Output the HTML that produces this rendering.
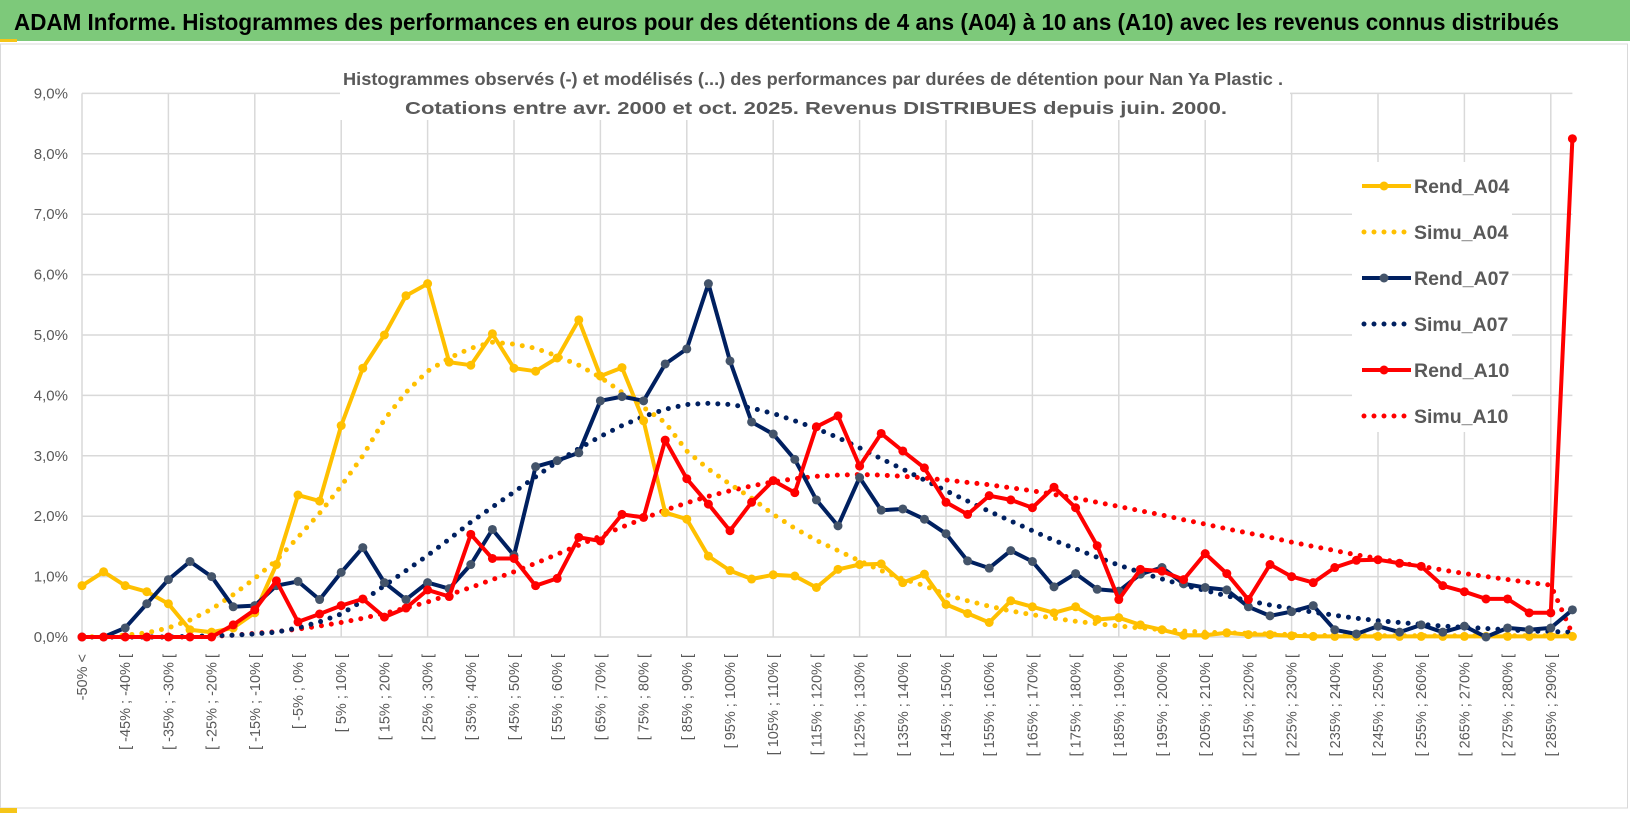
<!DOCTYPE html>
<html><head><meta charset="utf-8">
<style>
html,body{margin:0;padding:0;background:#fff;}
svg{display:block;font-family:"Liberation Sans",sans-serif;}
</style></head>
<body>
<svg id="chart" width="1630" height="815" viewBox="0 0 1630 815">
  <rect x="0" y="0" width="1630" height="815" fill="#fff"/>
  <rect x="0" y="0" width="1630" height="41" fill="#7dc97a"/>
  <rect x="0" y="39" width="17" height="3" fill="#f5c518"/>
  <text x="14" y="30" font-size="23" font-weight="bold" fill="#000" textLength="1545" lengthAdjust="spacingAndGlyphs">ADAM Informe. Histogrammes des performances en euros pour des détentions de 4 ans (A04) à 10 ans (A10) avec les revenus connus distribués</text>
  <rect x="0.5" y="44" width="1627" height="764" fill="none" stroke="#d9d9d9" stroke-width="1"/>
  <rect x="0" y="808" width="17" height="5" fill="#f5c518"/>
  <g id="grid"></g>
  <g id="ylabels"></g>
  <g id="xlabels"></g>
  <rect x="340" y="58" width="950" height="62" fill="#fff"/>
  <text x="813" y="85" font-size="17.5" font-weight="bold" fill="#595959" text-anchor="middle" textLength="940" lengthAdjust="spacingAndGlyphs">Histogrammes observés (-) et modélisés (...) des performances par durées de détention pour Nan Ya Plastic .</text>
  <text x="816" y="114" font-size="17.5" font-weight="bold" fill="#595959" text-anchor="middle" textLength="822" lengthAdjust="spacingAndGlyphs">Cotations entre avr. 2000 et oct. 2025. Revenus DISTRIBUES depuis juin. 2000.</text>
  <g id="series"></g>
  <g id="legend"></g>
</svg>
<script>
const categories = ["-50% <"];
for (let k = 1; k < 70; k++) { const a = -50 + 5*(k-1); categories.push("[ " + a + "% ; " + (a+5) + "% ["); }
const yTicks = [0,1,2,3,4,5,6,7,8,9];
const yTickLabels = ["0,0%","1,0%","2,0%","3,0%","4,0%","5,0%","6,0%","7,0%","8,0%","9,0%"];
const seriesNames = ["Rend_A04","Simu_A04","Rend_A07","Simu_A07","Rend_A10","Simu_A10"];
const rendA04 = [0.85,1.08,0.85,0.75,0.55,0.12,0.08,0.15,0.4,1.2,2.35,2.25,3.5,4.45,5.0,5.65,5.85,4.55,4.5,5.02,4.45,4.4,4.62,5.25,4.32,4.46,3.58,2.06,1.95,1.34,1.1,0.96,1.03,1.01,0.82,1.12,1.2,1.21,0.9,1.04,0.54,0.39,0.24,0.6,0.5,0.4,0.5,0.29,0.32,0.2,0.12,0.03,0.03,0.07,0.04,0.04,0.02,0.01,0.01,0.01,0.01,0.01,0.01,0.01,0.01,0.01,0.01,0.01,0.01,0.01];
const simuA04 = [0,0.01,0.03,0.07,0.15,0.28,0.46,0.7,0.97,1.27,1.65,2.05,2.5,3.0,3.6,4.05,4.4,4.62,4.78,4.88,4.85,4.78,4.65,4.5,4.3,4.05,3.8,3.55,3.08,2.78,2.53,2.3,2.03,1.8,1.6,1.43,1.26,1.1,0.96,0.85,0.7,0.6,0.51,0.43,0.37,0.31,0.26,0.22,0.18,0.15,0.12,0.1,0.08,0.07,0.06,0.05,0.04,0.03,0.02,0.02,0.02,0.02,0.02,0.02,0.02,0.02,0.02,0.02,0.02,0.02];
const rendA07 = [0,0,0.15,0.55,0.95,1.25,1.0,0.5,0.52,0.85,0.92,0.62,1.07,1.48,0.9,0.62,0.9,0.8,1.2,1.78,1.35,2.82,2.92,3.05,3.91,3.98,3.91,4.52,4.77,5.85,4.57,3.56,3.36,2.94,2.27,1.84,2.64,2.1,2.12,1.95,1.71,1.26,1.14,1.43,1.25,0.83,1.05,0.79,0.76,1.04,1.15,0.88,0.82,0.78,0.5,0.35,0.42,0.52,0.12,0.05,0.18,0.08,0.2,0.08,0.18,0.0,0.15,0.12,0.15,0.45];
const simuA07 = [0,0,0,0,0,0.01,0.02,0.03,0.05,0.08,0.15,0.25,0.38,0.6,0.85,1.1,1.35,1.62,1.9,2.15,2.4,2.65,2.9,3.12,3.32,3.5,3.65,3.77,3.85,3.87,3.85,3.79,3.7,3.58,3.45,3.3,3.13,2.95,2.78,2.6,2.42,2.25,2.08,1.92,1.76,1.6,1.46,1.32,1.19,1.07,0.96,0.86,0.77,0.68,0.6,0.53,0.47,0.41,0.36,0.31,0.27,0.24,0.21,0.18,0.16,0.14,0.12,0.1,0.09,0.08];
const rendA10 = [0,0,0,0,0,0,0,0.2,0.45,0.93,0.25,0.38,0.52,0.63,0.33,0.48,0.78,0.67,1.7,1.3,1.3,0.85,0.97,1.65,1.59,2.03,1.98,3.26,2.62,2.2,1.76,2.23,2.59,2.39,3.48,3.66,2.83,3.37,3.08,2.8,2.23,2.03,2.34,2.27,2.14,2.48,2.14,1.51,0.62,1.12,1.09,0.95,1.38,1.05,0.62,1.2,1.0,0.9,1.15,1.27,1.28,1.22,1.17,0.85,0.75,0.63,0.63,0.4,0.4,8.25];
const simuA10 = [0,0,0,0,0,0,0.01,0.03,0.06,0.09,0.13,0.18,0.24,0.31,0.39,0.48,0.58,0.7,0.82,0.95,1.08,1.22,1.37,1.52,1.67,1.82,1.96,2.1,2.22,2.33,2.42,2.5,2.57,2.62,2.66,2.68,2.69,2.68,2.66,2.63,2.6,2.56,2.52,2.47,2.42,2.36,2.3,2.23,2.16,2.09,2.02,1.94,1.87,1.79,1.72,1.65,1.57,1.5,1.43,1.36,1.3,1.23,1.17,1.11,1.05,1.0,0.95,0.9,0.86,0.05];

const NS = "http://www.w3.org/2000/svg";
const X0 = 82, DX = 21.6, Y0 = 637, DY = 60.4;
const xs = i => X0 + DX*i;
const ys = v => Y0 - DY*v;
function mk(tag, attrs, parent){ const e = document.createElementNS(NS, tag); for (const k in attrs) e.setAttribute(k, attrs[k]); parent.appendChild(e); return e; }

const grid = document.getElementById("grid");
const xRight = xs(categories.length - 1);
yTicks.forEach(t => {
  const l = mk("line", {x1: X0, x2: xRight, y1: ys(t), y2: ys(t), stroke: "#d9d9d9", "stroke-width": 1.5}, grid);
  
  
});
for (let i = 0; i < categories.length; i += 4) {
  const l = mk("line", {x1: xs(i), x2: xs(i), y1: ys(9), y2: ys(0), stroke: "#d9d9d9", "stroke-width": 1.5}, grid);
  
  
}
const yl = document.getElementById("ylabels");
yTicks.forEach((t, k) => {
  const tx = mk("text", {x: 68, y: ys(t) + 5, "font-size": 15, fill: "#595959", "text-anchor": "end"}, yl);
  tx.textContent = yTickLabels[k];
  
  
});
const xl = document.getElementById("xlabels");
for (let i = 0; i < categories.length; i += 2) {
  const x = xs(i) + 5, y = 654;
  const tx = mk("text", {x: x, y: y, "font-size": 14.5, fill: "#595959", "text-anchor": "end", transform: "rotate(-90 " + x + " " + y + ")"}, xl);
  tx.textContent = categories[i];
  
  
}

const sg = document.getElementById("series");
function pts(arr){ return arr.map((v,i) => xs(i).toFixed(1) + "," + ys(v).toFixed(1)).join(" "); }
function dotted(arr, color, name){
  const p = mk("polyline", {points: pts(arr), fill: "none", stroke: color, "stroke-width": 5, "stroke-linecap": "round", "stroke-dasharray": "0 10"}, sg);
  
  
}
function solid(arr, color, mcolor, name){
  const p = mk("polyline", {points: pts(arr), fill: "none", stroke: color, "stroke-width": 4, "stroke-linejoin": "round"}, sg);
  
  
  arr.forEach((v,i) => {
    const c = mk("circle", {cx: xs(i), cy: ys(v), r: 4.5, fill: mcolor}, sg);
    
    
  });
}
dotted(simuA10, "#ff0000", "simu-a10-line");
dotted(simuA07, "#002060", "simu-a07-line");
dotted(simuA04, "#ffc000", "simu-a04-line");
solid(rendA04, "#ffc000", "#ffc000", "rend-a04-line");
solid(rendA07, "#002060", "#44546a", "rend-a07-line");
solid(rendA10, "#ff0000", "#ff0000", "rend-a10-line");

const lg = document.getElementById("legend");
const lcolors = ["#ffc000","#ffc000","#002060","#002060","#ff0000","#ff0000"];
const bg = mk("rect", {x: 1352, y: 162, width: 160, height: 270, fill: "#fff"}, lg);
seriesNames.forEach((n, k) => {
  const y = 186 + 46*k;
  const g = mk("g", {}, lg);
  
  
  if (k % 2 === 0) {
    mk("line", {x1: 1362, x2: 1411, y1: y, y2: y, stroke: lcolors[k], "stroke-width": 4}, g);
    mk("circle", {cx: 1384, cy: y, r: 4.5, fill: k===2 ? "#44546a" : lcolors[k]}, g);
  } else {
    mk("line", {x1: 1364, x2: 1408, y1: y, y2: y, stroke: lcolors[k], "stroke-width": 5, "stroke-linecap": "round", "stroke-dasharray": "0 10"}, g);
  }
  const t = mk("text", {x: 1414, y: y + 7, "font-size": 19.5, "font-weight": "bold", fill: "#595959"}, g);
  t.textContent = n;
});
</script>
</body></html>
